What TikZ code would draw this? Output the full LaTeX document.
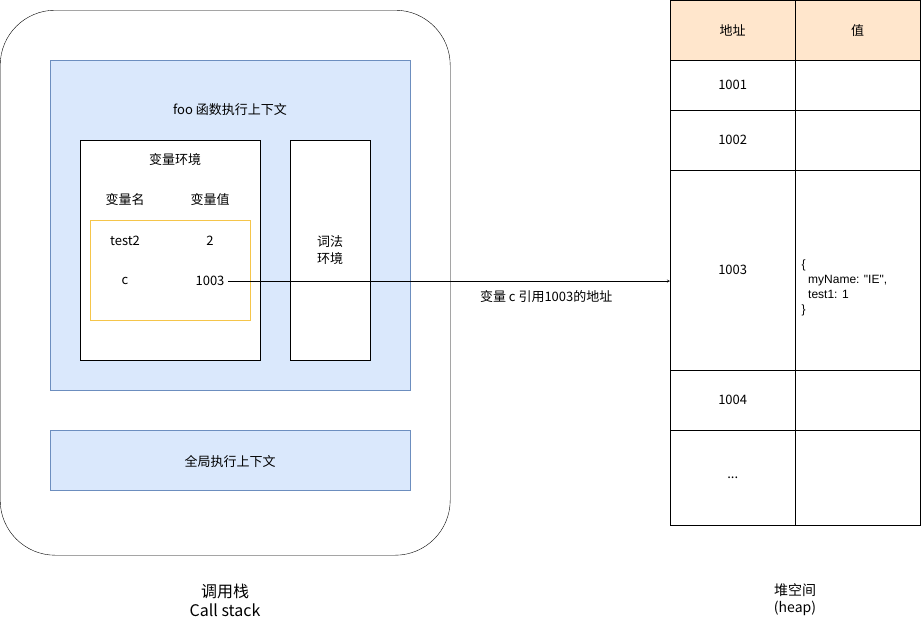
\documentclass[tikz,border=0pt]{standalone}
\usepackage{fontspec}
\setmainfont{Noto Sans CJK SC}
\newfontfamily\latinfont{Liberation Sans}
\usetikzlibrary{positioning}
\definecolor{ctxblue}{HTML}{DAE8FC}
\definecolor{ctxline}{HTML}{6C8EBF}
\definecolor{envyellow}{HTML}{F5C54A}
\definecolor{headorange}{HTML}{FFE6CC}
\newcommand{\moredots}{...}
\tikzset{
  box/.style={draw, anchor=north west, inner sep=0pt},
  ctx/.style={box, fill=ctxblue, draw=ctxline},
  cell/.style={draw, anchor=north west, inner sep=0pt},
  lbl/.style={font=\fontsize{13}{17}\selectfont},
  caption/.style={font=\fontsize{16}{19}\selectfont, align=center}
}
\begin{document}
\begin{tikzpicture}[x=1pt, y=-1pt, >=stealth]
\useasboundingbox (0,0) rectangle (921,622);

\node[box, rounded corners=55, minimum width=450, minimum height=545] (stack) at (0,10) {};
\node[ctx, minimum width=360, minimum height=330] (foo) at (50,60) {};
\node[lbl] (footitle) at (230,110) {foo 函数执行上下文};
\node[box, fill=white, minimum width=180, minimum height=220] (varenv) at (80,140) {};
\node[lbl] (varenvtitle) at (175,160) {变量环境};
\node[lbl] (namehead) at (125,200) {变量名};
\node[lbl] (valhead) at (210,200) {变量值};
\node[box, draw=envyellow, thick, minimum width=160, minimum height=100] (varbox) at (90,220) {};
\node[lbl] (test2) at (125,241) {test2};
\node[lbl] (test2val) at (210,241) {2};
\node[lbl] (cname) at (125,281) {c};
\node[lbl] (cval) at (210,281) {1003};
\node[box, fill=white, minimum width=80, minimum height=220] (lexenv) at (290,140) {};
\node[lbl, align=center] (lextitle) at (330,250) {词法\\环境};
\node[ctx, minimum width=360, minimum height=60] (global) at (50,430) {};
\node[lbl] (globaltitle) at (230,461) {全局执行上下文};

% heap table
\node[cell, fill=headorange, minimum width=125, minimum height=60] (addrhead) at (670,0) {};
\node[cell, fill=headorange, minimum width=125, minimum height=60] (valuehead) at (795,0) {};
\node[lbl] at (addrhead.center) {地址};
\node[lbl] at (valuehead.center) {值};
\foreach \name/\top/\h/\txt in {a/60/50/1001, b/110/60/1002, c/170/200/1003, d/370/60/1004, e/430/95/\moredots} {
  \node[cell, minimum width=125, minimum height=\h] (addr\name) at (670,\top) {};
  \node[cell, minimum width=125, minimum height=\h] (value\name) at (795,\top) {};
  \node[lbl] at (addr\name.center) {\txt};
}
\node[lbl, anchor=west, align=left, font=\latinfont\fontsize{12}{15}\selectfont] (obj) at (798,288) {\{\\\ \ myName: "IE",\\\ \ test1: 1\\\}};

\draw[->] (cval.east) -- (cval.east -| addrc.west) node[lbl, pos=0.72, below=6pt] {变量 c 引用1003的地址};

\node[caption] (stacklabel) at (225,600) {调用栈\\Call stack};
\node[caption, font=\fontsize{14}{17}\selectfont] (heaplabel) at (795,600) {堆空间\\(heap)};
\end{tikzpicture}
\end{document}
